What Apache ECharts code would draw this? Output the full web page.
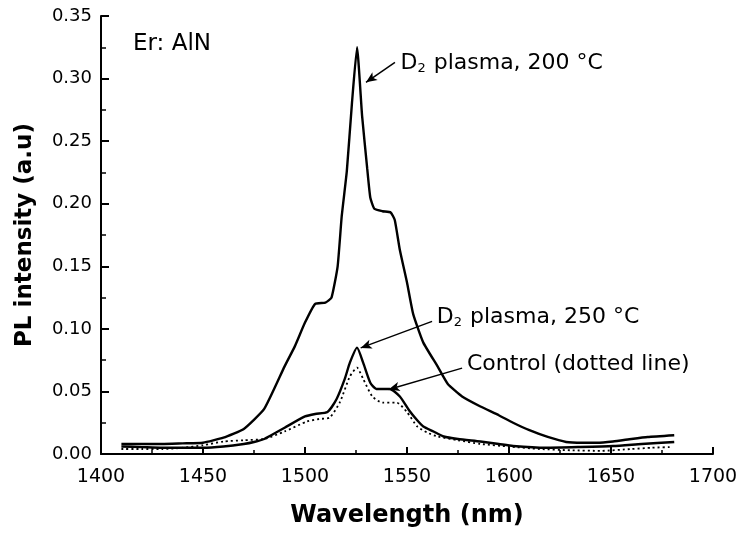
<!DOCTYPE html>
<html>
<head>
<meta charset="utf-8">
<script src="https://cdn.jsdelivr.net/npm/echarts@6/dist/echarts.min.js"></script>
<style>html,body{margin:0;padding:0;background:#fff}#c{width:741px;height:533px}</style>
</head>
<body>
<div id="c"></div>
<script>
// ---- data ----
var xTicks = [1400, 1450, 1500, 1550, 1600, 1650, 1700];
var yTicks = [0.00, 0.05, 0.10, 0.15, 0.20, 0.25, 0.30, 0.35];

var wl200 = [1410,1420,1430,1440,1450,1460,1470,1480,1490,1495,1500,1505,1510,1513,1516,1518,1520.5,1523,1525.5,1528,1530.5,1532,1534,1538,1542,1544,1546.5,1550,1553,1558,1565,1570,1577,1586,1595,1602,1610,1619,1628,1636,1643,1651,1660,1668,1681];
var pl200 = [0.008,0.008,0.008,0.0085,0.009,0.013,0.020,0.036,0.070,0.086,0.105,0.120,0.121,0.125,0.150,0.190,0.226,0.280,0.325,0.270,0.228,0.205,0.196,0.194,0.193,0.187,0.163,0.137,0.112,0.089,0.070,0.056,0.046,0.038,0.031,0.025,0.019,0.0136,0.0096,0.009,0.009,0.010,0.012,0.0136,0.015];

var wl250 = [1410,1420,1430,1440,1450,1460,1470,1475,1480,1490,1500,1505,1511,1515.5,1519.5,1522,1525.5,1528.5,1532,1535,1541.5,1546.5,1551,1555,1558,1563,1568,1575,1586,1595,1602,1618,1635,1651,1665,1681];
var pl250 = [0.006,0.0055,0.005,0.005,0.005,0.006,0.008,0.0096,0.012,0.021,0.030,0.032,0.0335,0.044,0.060,0.073,0.085,0.073,0.057,0.052,0.052,0.046,0.035,0.027,0.022,0.018,0.014,0.012,0.010,0.008,0.0064,0.005,0.0056,0.0064,0.008,0.0096];

var wlCtrl = [1410,1420,1430,1440,1450,1460,1470,1480,1490,1501,1507,1512,1517,1522,1525.5,1528.5,1533,1538,1545,1550,1555,1560,1565,1575,1586,1600,1615,1630,1645,1660,1670,1680];
var plCtrl = [0.004,0.004,0.004,0.005,0.007,0.010,0.011,0.012,0.018,0.026,0.028,0.029,0.041,0.062,0.069,0.060,0.046,0.041,0.041,0.0335,0.022,0.017,0.014,0.011,0.008,0.006,0.004,0.003,0.0025,0.004,0.005,0.0056];

function pairs(xs, ys) { return xs.map(function (x, i) { return [x, ys[i]]; }); }

var FONT = 'DejaVu Sans, sans-serif';
var chart = echarts.init(document.getElementById('c'));

var arrowStyle = { color: '#000', width: 1.5, type: 'solid' };
function arrow(from, to) {
  return [{ coord: from, symbol: 'none' }, { coord: to, symbol: 'arrow', symbolSize: [7, 11] }];
}

chart.setOption({
  animation: false,
  backgroundColor: '#fff',
  grid: { left: 101, right: 28, top: 16, bottom: 78, containLabel: false },
  xAxis: {
    type: 'value', min: 1400, max: 1700, interval: 50,
    name: 'Wavelength (nm)', nameLocation: 'middle', nameGap: 50,
    nameTextStyle: { fontFamily: FONT, fontWeight: 'bold', fontSize: 24, color: '#000' },
    axisLine: { lineStyle: { color: '#000', width: 2 } },
    axisTick: { inside: true, length: 7, lineStyle: { color: '#000', width: 2 } },
    minorTick: { show: true, splitNumber: 2, length: 4, lineStyle: { color: '#000', width: 1.5 } },
    axisLabel: { fontFamily: FONT, fontSize: 19, color: '#000', margin: 14,
      formatter: function (v) { return xTicks.indexOf(v) >= 0 ? String(v) : ''; } },
    splitLine: { show: false }
  },
  yAxis: {
    type: 'value', min: 0, max: 0.35, interval: 0.05,
    name: 'PL intensity (a.u)', nameLocation: 'middle', nameGap: 64,
    nameTextStyle: { fontFamily: FONT, fontWeight: 'bold', fontSize: 23, color: '#000' },
    axisLine: { lineStyle: { color: '#000', width: 2 } },
    axisTick: { inside: true, length: 8, lineStyle: { color: '#000', width: 2 } },
    minorTick: { show: true, splitNumber: 2, length: 5, lineStyle: { color: '#000', width: 1.5 } },
    axisLabel: { fontFamily: FONT, fontSize: 18, color: '#000', margin: 9,
      formatter: function (v) { return v.toFixed(2); } },
    splitLine: { show: false }
  },
  series: [
    {
      name: 'D2 plasma, 200 °C', type: 'line', data: pairs(wl200, pl200),
      showSymbol: false, smooth: 0.15,
      lineStyle: { color: '#000', width: 2.4 },
      markLine: { silent: true, symbol: ['none', 'arrow'], lineStyle: arrowStyle, label: { show: false },
        data: [arrow([1544.1, 0.313], [1529.9, 0.297])] }
    },
    {
      name: 'D2 plasma, 250 °C', type: 'line', data: pairs(wl250, pl250),
      showSymbol: false, smooth: 0.2,
      lineStyle: { color: '#000', width: 2.4 },
      markLine: { silent: true, symbol: ['none', 'arrow'], lineStyle: arrowStyle, label: { show: false },
        data: [arrow([1562.3, 0.106], [1527.3, 0.0848]), arrow([1577, 0.0686], [1541, 0.0515])] }
    },
    {
      name: 'Control', type: 'line', data: pairs(wlCtrl, plCtrl),
      showSymbol: false, smooth: 0.2,
      lineStyle: { color: '#000', width: 1.8, type: [2, 3] }
    }
  ]
});

function px(c) { return chart.convertToPixel({ gridIndex: 0 }, c); }
var rich = {
  m: { fontFamily: FONT, fontSize: 22, fill: '#000', color: '#000' },
  s: { fontFamily: FONT, fontSize: 13, fill: '#000', color: '#000', padding: [11, 1, 0, 0] }
};
function label(c, text, size) {
  var p = px(c);
  return { type: 'text', x: p[0], y: p[1], silent: true,
    style: { text: text, rich: rich, fontFamily: FONT, fontSize: size || 22, fill: '#000', verticalAlign: 'middle', align: 'left' } };
}
chart.setOption({
  graphic: [
    label([1415.7, 0.328], 'Er: AlN', 23),
    label([1546.8, 0.3125], '{m|D}{s|2}{m| plasma, 200 °C}'),
    label([1564.6, 0.109], '{m|D}{s|2}{m| plasma, 250 °C}'),
    label([1579.4, 0.0715], 'Control (dotted line)')
  ]
});
</script>
</body>
</html>
